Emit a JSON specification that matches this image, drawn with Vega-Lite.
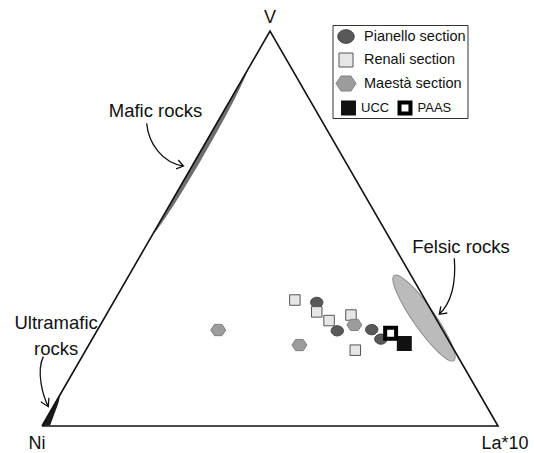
{
  "$schema": "https://vega.github.io/schema/vega-lite/v6.json",
  "width": 534,
  "height": 453,
  "autosize": {"type": "none"},
  "padding": 0,
  "background": "white",
  "config": {
    "view": {"stroke": null},
    "font": "Liberation Sans",
    "text": {"font": "Liberation Sans", "color": "#111111"}
  },
  "datasets": {
    "corners": [
      {"corner": "Ni", "seq": 1, "V": 0, "Ni": 100, "La": 0},
      {"corner": "La*10", "seq": 2, "V": 0, "Ni": 0, "La": 100},
      {"corner": "V", "seq": 3, "V": 100, "Ni": 0, "La": 0},
      {"corner": "Ni", "seq": 4, "V": 0, "Ni": 100, "La": 0}
    ],
    "samples": [
      {"group": "Pianello section", "V": 31.3, "Ni": 24.1, "La": 44.6},
      {"group": "Pianello section", "V": 24.1, "Ni": 23.2, "La": 52.7},
      {"group": "Pianello section", "V": 24.4, "Ni": 15.5, "La": 60.1},
      {"group": "Pianello section", "V": 22.0, "Ni": 14.7, "La": 63.3},
      {"group": "Renali section", "V": 31.9, "Ni": 28.6, "La": 39.5},
      {"group": "Renali section", "V": 28.9, "Ni": 25.3, "La": 45.8},
      {"group": "Renali section", "V": 26.7, "Ni": 23.7, "La": 49.6},
      {"group": "Renali section", "V": 28.1, "Ni": 18.2, "La": 53.7},
      {"group": "Renali section", "V": 19.2, "Ni": 21.7, "La": 59.1},
      {"group": "Maestà section", "V": 24.3, "Ni": 49.2, "La": 26.5},
      {"group": "Maestà section", "V": 25.6, "Ni": 18.7, "La": 55.7},
      {"group": "Maestà section", "V": 20.5, "Ni": 33.3, "La": 46.2},
      {"group": "UCC", "V": 20.9, "Ni": 10.1, "La": 69.0},
      {"group": "PAAS", "V": 23.5, "Ni": 11.8, "La": 64.7}
    ]
  },
  "layer": [
    {
      "description": "Felsic rocks field",
      "data": {"values": [{}]},
      "mark": {
        "type": "point",
        "shape": "M-1,0C-1,-0.116,-0.552,-0.21,0,-0.21C0.552,-0.21,1,-0.116,1,0C1,0.116,0.552,0.21,0,0.21C-0.552,0.21,-1,0.116,-1,0Z",
        "size": 10816,
        "angle": 55,
        "filled": true,
        "fill": "#bbbbbb",
        "stroke": "#8a8a8a",
        "strokeWidth": 1,
        "opacity": 1
      },
      "encoding": {
        "x": {"datum": 0.8377, "type": "quantitative", "scale": {"domain": [-0.0921, 1.0789], "nice": false, "zero": false}, "axis": null},
        "y": {"datum": 0.2368, "type": "quantitative", "scale": {"domain": [-0.0592, 0.9342], "nice": false, "zero": false}, "axis": null}
      }
    },
    {
      "description": "Mafic rocks field along the Ni-V edge",
      "data": {"values": [{}]},
      "mark": {
        "type": "point",
        "shape": "M-1,0.005C-0.7,0.065,0.7,0.065,1,0C0.7,-0.01,-0.7,-0.01,-1,0.005Z",
        "size": 36100,
        "angle": 300,
        "filled": true,
        "fill": "#6e6e6e",
        "strokeWidth": 0,
        "opacity": 1
      },
      "encoding": {
        "x": {"datum": 0.3476, "type": "quantitative", "scale": {"domain": [-0.0921, 1.0789], "nice": false, "zero": false}, "axis": null},
        "y": {"datum": 0.602, "type": "quantitative", "scale": {"domain": [-0.0592, 0.9342], "nice": false, "zero": false}, "axis": null}
      }
    },
    {
      "description": "Ultramafic rocks field near the Ni corner",
      "data": {"values": [{}]},
      "mark": {
        "type": "point",
        "shape": "M-1,0L1,-0.02L0.5,0.14L-0.75,0.35Z",
        "size": 1444,
        "angle": 300,
        "filled": true,
        "fill": "#1a1a1a",
        "strokeWidth": 0,
        "opacity": 1
      },
      "encoding": {
        "x": {"datum": 0.0209, "type": "quantitative", "scale": {"domain": [-0.0921, 1.0789], "nice": false, "zero": false}, "axis": null},
        "y": {"datum": 0.0362, "type": "quantitative", "scale": {"domain": [-0.0592, 0.9342], "nice": false, "zero": false}, "axis": null}
      }
    },
    {
      "description": "Ternary frame",
      "data": {"name": "corners"},
      "transform": [
        {"calculate": "datum.La / 100 + datum.V / 200", "as": "tx"},
        {"calculate": "datum.V / 100 * 0.8660254", "as": "ty"}
      ],
      "mark": {"type": "line", "color": "#111111", "strokeWidth": 1.6, "strokeJoin": "miter"},
      "encoding": {
        "x": {"field": "tx", "type": "quantitative", "scale": {"domain": [-0.0921, 1.0789], "nice": false, "zero": false}, "axis": null},
        "y": {"field": "ty", "type": "quantitative", "scale": {"domain": [-0.0592, 0.9342], "nice": false, "zero": false}, "axis": null},
        "order": {"field": "seq"}
      }
    },
    {
      "description": "Section samples",
      "data": {"name": "samples"},
      "transform": [
        {"filter": "datum.group != 'UCC' && datum.group != 'PAAS'"},
        {"calculate": "datum.La / 100 + datum.V / 200", "as": "tx"},
        {"calculate": "datum.V / 100 * 0.8660254", "as": "ty"}
      ],
      "mark": {"type": "point", "filled": true, "size": 225, "strokeWidth": 1, "opacity": 1},
      "encoding": {
        "x": {"field": "tx", "type": "quantitative", "scale": {"domain": [-0.0921, 1.0789], "nice": false, "zero": false}, "axis": null},
        "y": {"field": "ty", "type": "quantitative", "scale": {"domain": [-0.0592, 0.9342], "nice": false, "zero": false}, "axis": null},
        "shape": {
          "field": "group", "type": "nominal",
          "scale": {
            "domain": ["Pianello section", "Renali section", "Maestà section"],
            "range": [
              "M-0.82,0C-0.82,-0.3756,-0.4529,-0.68,0,-0.68C0.4529,-0.68,0.82,-0.3756,0.82,0C0.82,0.3756,0.4529,0.68,0,0.68C-0.4529,0.68,-0.82,0.3756,-0.82,0Z",
              "M-0.7,-0.7L0.7,-0.7L0.7,0.7L-0.7,0.7Z",
              "M-1,0L-0.5,-0.75L0.5,-0.75L1,0L0.5,0.75L-0.5,0.75Z"
            ]
          },
          "legend": {
            "title": "\u00a0", "orient": "none", "legendX": 332.5, "legendY": 25,
            "titleOrient": "bottom", "titleFontSize": 18, "titlePadding": 6,
            "padding": 1, "rowPadding": 3.5, "symbolOffset": 2, "symbolSize": 400, "symbolStrokeWidth": 1, "symbolOpacity": 1,
            "labelFont": "Liberation Sans", "labelFontSize": 14.5, "labelColor": "#111111", "labelOffset": 7.5,
            "strokeColor": "#333333", "fillColor": "white"
          }
        },
        "fill": {
          "field": "group", "type": "nominal",
          "scale": {"domain": ["Pianello section", "Renali section", "Maestà section"], "range": ["#595959", "#e6e6e6", "#9c9c9c"]},
          "legend": {
            "title": "\u00a0", "orient": "none", "legendX": 332.5, "legendY": 25,
            "titleOrient": "bottom", "titleFontSize": 18, "titlePadding": 6,
            "padding": 1, "rowPadding": 3.5, "symbolOffset": 2, "symbolSize": 400, "symbolStrokeWidth": 1, "symbolOpacity": 1,
            "labelFont": "Liberation Sans", "labelFontSize": 14.5, "labelColor": "#111111", "labelOffset": 7.5,
            "strokeColor": "#333333", "fillColor": "white"
          }
        },
        "stroke": {
          "field": "group", "type": "nominal",
          "scale": {"domain": ["Pianello section", "Renali section", "Maestà section"], "range": ["#3f3f3f", "#555555", "#808080"]},
          "legend": {
            "title": "\u00a0", "orient": "none", "legendX": 332.5, "legendY": 25,
            "titleOrient": "bottom", "titleFontSize": 18, "titlePadding": 6,
            "padding": 1, "rowPadding": 3.5, "symbolOffset": 2, "symbolSize": 400, "symbolStrokeWidth": 1, "symbolOpacity": 1,
            "labelFont": "Liberation Sans", "labelFontSize": 14.5, "labelColor": "#111111", "labelOffset": 7.5,
            "strokeColor": "#333333", "fillColor": "white"
          }
        }
      }
    },
    {
      "description": "Reference compositions UCC and PAAS",
      "data": {"name": "samples"},
      "transform": [
        {"filter": "datum.group == 'UCC' || datum.group == 'PAAS'"},
        {"calculate": "datum.La / 100 + datum.V / 200", "as": "tx"},
        {"calculate": "datum.V / 100 * 0.8660254", "as": "ty"}
      ],
      "mark": {
        "type": "point", "filled": true, "size": 225, "strokeWidth": 4, "strokeJoin": "miter", "opacity": 1,
        "shape": "M-0.73,-0.73L0.73,-0.73L0.73,0.73L-0.73,0.73Z"
      },
      "encoding": {
        "x": {"field": "tx", "type": "quantitative", "scale": {"domain": [-0.0921, 1.0789], "nice": false, "zero": false}, "axis": null},
        "y": {"field": "ty", "type": "quantitative", "scale": {"domain": [-0.0592, 0.9342], "nice": false, "zero": false}, "axis": null},
        "fill": {
          "field": "group", "type": "nominal",
          "scale": {"domain": ["UCC", "PAAS"], "range": ["#111111", "#ffffff"]},
          "legend": {
            "title": null, "orient": "none", "legendX": 339, "legendY": 98.5,
            "direction": "horizontal", "columns": 2, "columnPadding": 1.5, "padding": 0,
            "symbolType": "M-0.73,-0.73L0.73,-0.73L0.73,0.73L-0.73,0.73Z", "symbolSize": 225, "symbolStrokeWidth": 4, "symbolOpacity": 1,
            "labelFont": "Liberation Sans", "labelFontSize": 13, "labelColor": "#111111", "labelOffset": 3
          }
        },
        "stroke": {
          "field": "group", "type": "nominal",
          "scale": {"domain": ["UCC", "PAAS"], "range": ["#111111", "#000000"]},
          "legend": {
            "title": null, "orient": "none", "legendX": 339, "legendY": 98.5,
            "direction": "horizontal", "columns": 2, "columnPadding": 1.5, "padding": 0,
            "symbolType": "M-0.73,-0.73L0.73,-0.73L0.73,0.73L-0.73,0.73Z", "symbolSize": 225, "symbolStrokeWidth": 4, "symbolOpacity": 1,
            "labelFont": "Liberation Sans", "labelFontSize": 13, "labelColor": "#111111", "labelOffset": 3
          }
        }
      }
    },
    {
      "description": "Arrow to the mafic field",
      "data": {"values": [{}]},
      "mark": {
        "type": "point", "filled": false, "stroke": "#111111", "strokeWidth": 1.3, "opacity": 1, "size": 1936,
        "shape": "M-0.832,-0.986C-0.75,-0.09,-0.136,0.818,0.841,0.955M0.602,0.68L0.841,0.955L0.502,1.085"
      },
      "encoding": {
        "x": {"datum": 0.2697, "type": "quantitative", "scale": {"domain": [-0.0921, 1.0789], "nice": false, "zero": false}, "axis": null},
        "y": {"datum": 0.6162, "type": "quantitative", "scale": {"domain": [-0.0592, 0.9342], "nice": false, "zero": false}, "axis": null}
      }
    },
    {
      "description": "Arrow to the felsic field",
      "data": {"values": [{}]},
      "mark": {
        "type": "point", "filled": false, "stroke": "#111111", "strokeWidth": 1.3, "opacity": 1, "size": 3600,
        "shape": "M0.243,-0.923C0.3,-0.133,0.167,0.533,-0.257,0.943M0.007,0.9L-0.257,0.943L-0.207,0.68"
      },
      "encoding": {
        "x": {"datum": 0.8882, "type": "quantitative", "scale": {"domain": [-0.0921, 1.0789], "nice": false, "zero": false}, "axis": null},
        "y": {"datum": 0.307, "type": "quantitative", "scale": {"domain": [-0.0592, 0.9342], "nice": false, "zero": false}, "axis": null}
      }
    },
    {
      "description": "Arrow to the ultramafic field",
      "data": {"values": [{}]},
      "mark": {
        "type": "point", "filled": false, "stroke": "#111111", "strokeWidth": 1.3, "opacity": 1, "size": 2704,
        "shape": "M0.0115,-0.975C-0.269,-0.385,0,0.538,0.204,0.95M0.227,0.604L0.204,0.95L-0.085,0.758"
      },
      "encoding": {
        "x": {"datum": 0.0022, "type": "quantitative", "scale": {"domain": [-0.0921, 1.0789], "nice": false, "zero": false}, "axis": null},
        "y": {"datum": 0.0965, "type": "quantitative", "scale": {"domain": [-0.0592, 0.9342], "nice": false, "zero": false}, "axis": null}
      }
    },
    {
      "data": {"values": [{}]},
      "mark": {"type": "text", "text": "V", "fontSize": 18, "align": "center", "baseline": "alphabetic"},
      "encoding": {
        "x": {"datum": 0.5, "type": "quantitative", "scale": {"domain": [-0.0921, 1.0789], "nice": false, "zero": false}, "axis": null},
        "y": {"datum": 0.8838, "type": "quantitative", "scale": {"domain": [-0.0592, 0.9342], "nice": false, "zero": false}, "axis": null}
      }
    },
    {
      "data": {"values": [{}]},
      "mark": {"type": "text", "text": "Ni", "fontSize": 18, "align": "center", "baseline": "alphabetic"},
      "encoding": {
        "x": {"datum": -0.011, "type": "quantitative", "scale": {"domain": [-0.0921, 1.0789], "nice": false, "zero": false}, "axis": null},
        "y": {"datum": -0.0515, "type": "quantitative", "scale": {"domain": [-0.0592, 0.9342], "nice": false, "zero": false}, "axis": null}
      }
    },
    {
      "data": {"values": [{}]},
      "mark": {"type": "text", "text": "La*10", "fontSize": 18, "align": "center", "baseline": "alphabetic"},
      "encoding": {
        "x": {"datum": 1.0154, "type": "quantitative", "scale": {"domain": [-0.0921, 1.0789], "nice": false, "zero": false}, "axis": null},
        "y": {"datum": -0.0515, "type": "quantitative", "scale": {"domain": [-0.0592, 0.9342], "nice": false, "zero": false}, "axis": null}
      }
    },
    {
      "data": {"values": [{}]},
      "mark": {"type": "text", "text": "Mafic rocks", "fontSize": 18.5, "align": "center", "baseline": "alphabetic"},
      "encoding": {
        "x": {"datum": 0.2489, "type": "quantitative", "scale": {"domain": [-0.0921, 1.0789], "nice": false, "zero": false}, "axis": null},
        "y": {"datum": 0.677, "type": "quantitative", "scale": {"domain": [-0.0592, 0.9342], "nice": false, "zero": false}, "axis": null}
      }
    },
    {
      "data": {"values": [{}]},
      "mark": {"type": "text", "text": "Felsic rocks", "fontSize": 18.5, "align": "center", "baseline": "alphabetic"},
      "encoding": {
        "x": {"datum": 0.9189, "type": "quantitative", "scale": {"domain": [-0.0921, 1.0789], "nice": false, "zero": false}, "axis": null},
        "y": {"datum": 0.38, "type": "quantitative", "scale": {"domain": [-0.0592, 0.9342], "nice": false, "zero": false}, "axis": null}
      }
    },
    {
      "data": {"values": [{}]},
      "mark": {"type": "text", "text": ["Ultramafic", "rocks"], "fontSize": 18.5, "lineHeight": 25.7, "align": "center", "baseline": "alphabetic"},
      "encoding": {
        "x": {"datum": 0.031, "type": "quantitative", "scale": {"domain": [-0.0921, 1.0789], "nice": false, "zero": false}, "axis": null},
        "y": {"datum": 0.212, "type": "quantitative", "scale": {"domain": [-0.0592, 0.9342], "nice": false, "zero": false}, "axis": null}
      }
    }
  ],
  "resolve": {
    "scale": {"shape": "independent", "fill": "independent", "stroke": "independent"},
    "legend": {"shape": "independent", "fill": "independent", "stroke": "independent"}
  }
}
